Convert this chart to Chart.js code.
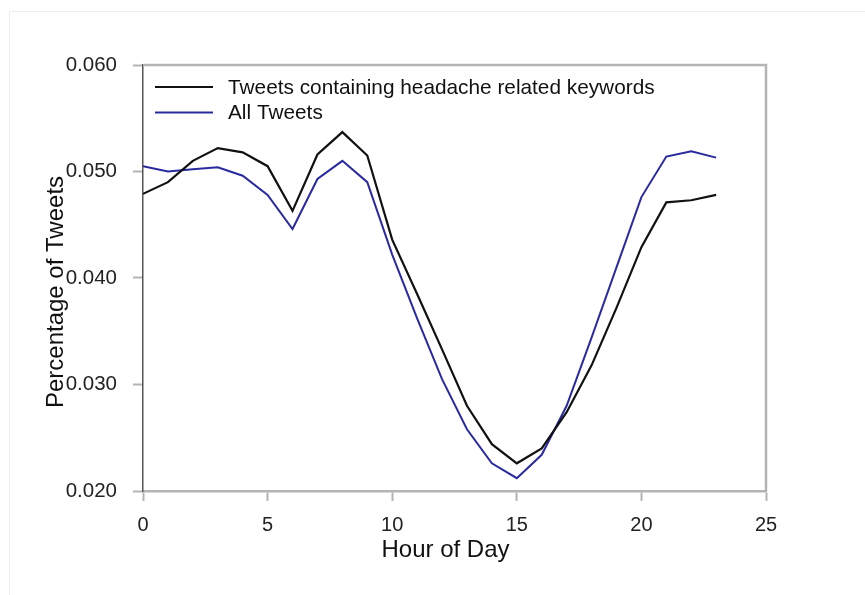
<!DOCTYPE html>
<html>
<head>
<meta charset="utf-8">
<script src="https://cdn.jsdelivr.net/npm/chart.js@4.4.1/dist/chart.umd.min.js"></script>
<style>
  html, body { margin: 0; padding: 0; background: #fff; }
  #wrap { width: 865px; height: 595px; position: relative; }
</style>
</head>
<body>
<div id="wrap"><canvas id="c" width="865" height="595"></canvas></div>
<script>
// Hourly share of tweets (hour of day 0-23)
const hours = [0,1,2,3,4,5,6,7,8,9,10,11,12,13,14,15,16,17,18,19,20,21,22,23];
const headacheTweets = [0.0479,0.0490,0.0510,0.0522,0.0518,0.0505,0.0463,0.0516,0.0537,0.0515,0.0436,0.0385,
                        0.0333,0.0280,0.0244,0.0226,0.0240,0.0274,0.0318,0.0372,0.0429,0.0471,0.0473,0.0478];
const allTweets = [0.0505,0.0500,0.0502,0.0504,0.0496,0.0478,0.0446,0.0493,0.0510,0.0490,0.0422,0.0362,
                   0.0305,0.0258,0.0226,0.0212,0.0234,0.0280,0.0344,0.0410,0.0476,0.0514,0.0519,0.0513];
const seriesLabels = ['Tweets containing headache related keywords', 'All Tweets'];
const xTicks = [0, 5, 10, 15, 20, 25];
const yTicks = [0.020, 0.030, 0.040, 0.050, 0.060];
const xTitle = 'Hour of Day';
const yTitle = 'Percentage of Tweets';

const FONT = '"Liberation Sans", Arial, Helvetica, sans-serif';
const frameGray = '#b4b4b4';

// Light page frame behind everything
const pageFrame = {
  id: 'pageFrame',
  beforeDraw(chart) {
    const ctx = chart.ctx;
    ctx.save();
    ctx.fillStyle = '#ffffff';
    ctx.fillRect(0, 0, chart.width, chart.height);
    ctx.strokeStyle = '#ececec';
    ctx.lineWidth = 1;
    ctx.beginPath();
    ctx.moveTo(9.5, chart.height);
    ctx.lineTo(9.5, 11.5);
    ctx.lineTo(chart.width, 11.5);
    ctx.stroke();
    ctx.restore();
  }
};

// Top and right edges of the plot box, axis titles and the inset legend
const decorations = {
  id: 'decorations',
  afterDraw(chart) {
    const ctx = chart.ctx;
    const a = chart.chartArea;
    ctx.save();
    ctx.strokeStyle = frameGray;
    ctx.lineWidth = 2.5;
    ctx.beginPath();
    ctx.moveTo(a.left, a.top);
    ctx.lineTo(a.right, a.top);
    ctx.lineTo(a.right, a.bottom);
    ctx.stroke();

    // axis titles
    ctx.fillStyle = '#111';
    ctx.font = '24px ' + FONT;
    ctx.textAlign = 'center';
    ctx.textBaseline = 'alphabetic';
    ctx.fillText(xTitle, (a.left + a.right) / 2 - 9, a.bottom + 66);
    ctx.save();
    ctx.translate(a.left - 80, (a.top + a.bottom) / 2 + 14);
    ctx.rotate(-Math.PI / 2);
    ctx.fillText(yTitle, 0, 0);
    ctx.restore();

    // legend
    ctx.font = '20.8px ' + FONT;
    ctx.textAlign = 'left';
    ctx.textBaseline = 'middle';
    chart.data.datasets.forEach((ds, i) => {
      const y = a.top + 22 + i * 25.5;
      ctx.strokeStyle = ds.borderColor;
      ctx.lineWidth = 2;
      ctx.beginPath();
      ctx.moveTo(a.left + 12, y);
      ctx.lineTo(a.left + 70, y);
      ctx.stroke();
      ctx.fillStyle = '#111';
      ctx.fillText(ds.label, a.left + 85, y + 1);
    });
    ctx.restore();
  }
};

new Chart(document.getElementById('c'), {
  type: 'line',
  data: {
    labels: hours,
    datasets: [
      {
        label: seriesLabels[0],
        data: hours.map((h, i) => ({ x: h, y: headacheTweets[i] })),
        borderColor: '#111111',
        borderWidth: 2.2,
        pointRadius: 0,
        tension: 0,
        fill: false
      },
      {
        label: seriesLabels[1],
        data: hours.map((h, i) => ({ x: h, y: allTweets[i] })),
        borderColor: '#2a2aa0',
        borderWidth: 2,
        pointRadius: 0,
        tension: 0,
        fill: false
      }
    ]
  },
  options: {
    responsive: false,
    animation: false,
    devicePixelRatio: 1,
    layout: { padding: { left: 0, top: 65, right: 99, bottom: 0 } },
    plugins: {
      legend: { display: false },
      tooltip: { enabled: false },
      title: { display: false }
    },
    scales: {
      x: {
        type: 'linear',
        min: xTicks[0],
        max: xTicks[xTicks.length - 1],
        afterBuildTicks(scale) { scale.ticks = xTicks.map(v => ({ value: v })); },
        afterFit(scale) { scale.height = 104; },
        ticks: {
          font: { family: FONT, size: 20 },
          color: '#222',
          padding: 12,
          maxRotation: 0,
          callback: v => String(v)
        },
        grid: {
          display: true,
          drawOnChartArea: false,
          drawTicks: true,
          tickLength: 10,
          tickColor: frameGray,
          tickWidth: 2
        },
        border: { display: true, color: frameGray, width: 2.5 }
      },
      y: {
        type: 'linear',
        min: yTicks[0],
        max: yTicks[yTicks.length - 1],
        afterBuildTicks(scale) { scale.ticks = yTicks.map(v => ({ value: v })); },
        afterFit(scale) { scale.width = 143; },
        ticks: {
          font: { family: FONT, size: 20.5 },
          color: '#222',
          padding: 16,
          callback: v => Number(v).toFixed(3)
        },
        grid: {
          display: true,
          drawOnChartArea: false,
          drawTicks: true,
          tickLength: 10,
          tickColor: frameGray,
          tickWidth: 2
        },
        border: { display: true, color: '#555555', width: 1.5 }
      }
    }
  },
  plugins: [pageFrame, decorations]
});
</script>
</body>
</html>
